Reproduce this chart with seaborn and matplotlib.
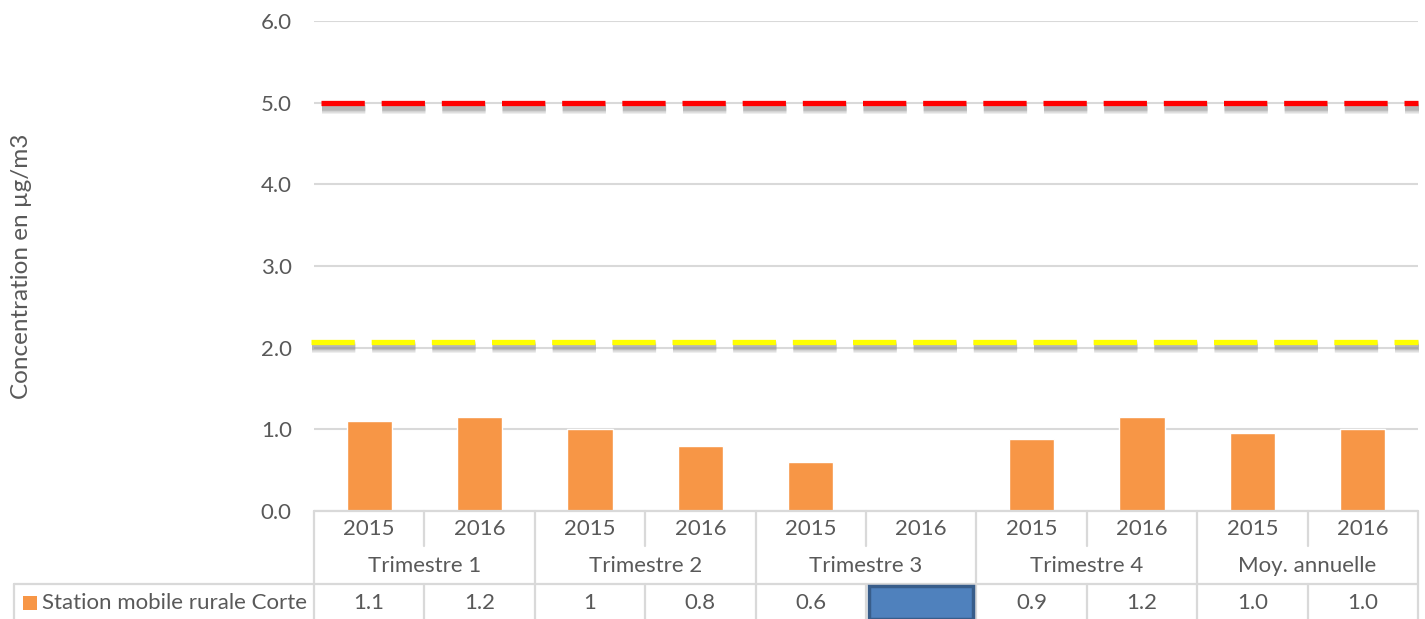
import numpy as np
import pandas as pd
import matplotlib
matplotlib.use("Agg")
import matplotlib.pyplot as plt
import matplotlib.patheffects as pe
from matplotlib.patches import Rectangle
import seaborn as sns

# ---- data ----
groups = ["Trimestre 1", "Trimestre 2", "Trimestre 3", "Trimestre 4", "Moy. annuelle"]
years = ["2015", "2016"]
values = [1.1, 1.15, 1.0, 0.8, 0.6, np.nan, 0.88, 1.15, 0.95, 1.0]
table_labels = ["1.1", "1.2", "1", "0.8", "0.6", "", "0.9", "1.2", "1.0", "1.0"]
series_name = "Station mobile rurale Corte"
limit_red = 5.0
limit_yellow = 2.07
y_ticks = [0, 1, 2, 3, 4, 5, 6]

cats = [f"{g} {y}" for g in groups for y in years]
df = pd.DataFrame({"cat": cats, "val": values})

sns.set_theme(style="white")
plt.rcParams["font.family"] = ["Lato", "DejaVu Sans"]

W, H = 1425, 619
fig = plt.figure(figsize=(W / 100, H / 100), dpi=100)
L, R, T, B = 314, 1418, 21, 511
ax = fig.add_axes([L / W, (H - B) / H, (R - L) / W, (B - T) / H])

grid_c = "#D9D9D9"
txt_c = "#595959"
fs = 16

for yv in y_ticks:
    ax.axhline(yv, color=grid_c, lw=1.5, zorder=0)

sns.barplot(data=df, x="cat", y="val", order=cats, color="#F79646",
            width=0.41, saturation=1, ax=ax, zorder=2)

# soft (pseudo-blurred) shadow under the limit lines
shadow = [pe.SimpleLineShadow(offset=(1, -3.5), shadow_color="#9a9a9a", alpha=0.18, rho=1, linewidth=lw)
          for lw in (8.5, 7.0, 5.5)]
shadow += [pe.SimpleLineShadow(offset=(1, -3.5), shadow_color="#888888", alpha=0.35, rho=1, linewidth=4.0),
           pe.Normal()]
for val, col, x0 in [(limit_red, "#FF0000", -0.44), (limit_yellow, "#FFFF00", -0.53)]:
    ax.plot([x0, 9.5], [val, val], color=col, lw=3.8, dashes=(8.2, 3.2),
            solid_capstyle="butt", dash_capstyle="butt", path_effects=shadow,
            zorder=3, clip_on=False)

ax.set_xlim(-0.5, 9.5)
ax.set_ylim(0, 6)
ax.set_yticks(y_ticks)
ax.set_yticklabels([f"{v:.1f}" for v in y_ticks], color=txt_c, fontsize=fs)
ax.tick_params(axis="y", length=0, pad=16)
ax.set_xticks([])
ax.set_xlabel("")
ax.set_ylabel("")
for s in ax.spines.values():
    s.set_visible(False)

fig.text(22 / W, 1 - 266 / H, "Concentration en µg/m3", rotation=90, ha="center",
         va="center", color=txt_c, fontsize=17.5)

# ---- data table ----
tr = ax.get_xaxis_transform()
ph = B - T
def yf(py):
    return -(py - B) / ph

lw_t = 1.6
y_row1, y_row2, y_row3, y_bot = yf(511), yf(549), yf(584), yf(619)
left_x = -0.5 - (L - 14) / ((R - L) / 10)

ax.plot([-0.5, 9.5], [y_row1, y_row1], transform=tr, color=grid_c, lw=lw_t, clip_on=False)
ax.plot([left_x, 9.5], [y_row3, y_row3], transform=tr, color=grid_c, lw=lw_t, clip_on=False)
ax.plot([left_x, left_x], [y_row3, y_bot], transform=tr, color=grid_c, lw=lw_t, clip_on=False)
for k in range(11):
    xb = -0.5 + k
    if k % 2 == 0:
        ax.plot([xb, xb], [y_row1, y_bot], transform=tr, color=grid_c, lw=lw_t, clip_on=False)
    else:
        ax.plot([xb, xb], [y_row1, yf(546)], transform=tr, color=grid_c, lw=lw_t, clip_on=False)
        ax.plot([xb, xb], [y_row3, y_bot], transform=tr, color=grid_c, lw=lw_t, clip_on=False)

for i, c in enumerate(cats):
    ax.text(i, yf(529), years[i % 2], transform=tr, ha="center", va="center",
            color=txt_c, fontsize=fs, clip_on=False)
    if table_labels[i]:
        ax.text(i, yf(603), table_labels[i], transform=tr, ha="center", va="center",
                color=txt_c, fontsize=fs, clip_on=False)
for j, g in enumerate(groups):
    ax.text(2 * j + 0.5, yf(566), g, transform=tr, ha="center", va="center",
            color=txt_c, fontsize=fs, clip_on=False)

# highlighted empty cell (Trimestre 3, 2016)
miss = int(np.where(np.isnan(values))[0][0])
ax.add_patch(Rectangle((miss - 0.5 + 0.03, yf(619)), 0.94, yf(586) - yf(619), transform=tr,
                       facecolor="#4F81BD", edgecolor="#385D8A", lw=2.5, clip_on=False, zorder=5))

# legend key
key_w = 14 / ((R - L) / 10)
ax.add_patch(Rectangle((left_x + 9 / ((R - L) / 10), yf(610)), key_w, yf(596) - yf(610),
                       transform=tr, facecolor="#F79646", edgecolor="none", clip_on=False))
ax.text(left_x + 28 / ((R - L) / 10), yf(603), series_name, transform=tr, ha="left",
        va="center", color=txt_c, fontsize=fs, clip_on=False)

fig.savefig("out.png", dpi=100)
